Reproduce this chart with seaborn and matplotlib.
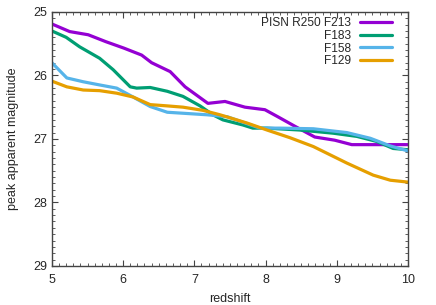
import numpy as np
import pandas as pd
import matplotlib
matplotlib.use("Agg")
import matplotlib.pyplot as plt
import seaborn as sns
from matplotlib.ticker import MultipleLocator

# peak apparent magnitude vs redshift
z_f213 = [5.0, 5.25, 5.51, 5.76, 6.01, 6.26, 6.40, 6.66, 6.87, 7.19, 7.43, 7.71, 7.99, 8.17, 8.41, 8.69, 8.97, 9.21, 9.61, 10.0]
m_f213 = [25.19, 25.31, 25.36, 25.47, 25.57, 25.68, 25.80, 25.94, 26.18, 26.44, 26.41, 26.50, 26.54, 26.65, 26.80, 26.97, 27.02, 27.09, 27.09, 27.09]

z_f183 = [5.0, 5.2, 5.39, 5.67, 5.86, 6.10, 6.19, 6.38, 6.62, 6.84, 7.08, 7.26, 7.40, 7.68, 7.82, 8.02, 8.48, 8.95, 9.28, 9.56, 9.79, 10.0]
m_f183 = [25.30, 25.40, 25.55, 25.73, 25.91, 26.18, 26.20, 26.19, 26.25, 26.33, 26.48, 26.62, 26.70, 26.78, 26.83, 26.83, 26.86, 26.91, 26.96, 27.04, 27.15, 27.17]

z_f158 = [5.0, 5.21, 5.44, 5.67, 5.91, 6.14, 6.38, 6.62, 6.90, 7.18, 7.46, 7.92, 8.20, 8.67, 9.14, 9.47, 9.75, 10.0]
m_f158 = [25.80, 26.04, 26.10, 26.15, 26.20, 26.34, 26.49, 26.58, 26.60, 26.62, 26.65, 26.83, 26.83, 26.84, 26.90, 26.99, 27.11, 27.19]

z_f129 = [5.0, 5.21, 5.44, 5.67, 5.91, 6.14, 6.38, 6.62, 6.84, 7.12, 7.36, 7.74, 8.02, 8.34, 8.67, 9.14, 9.51, 9.75, 10.0]
m_f129 = [26.09, 26.18, 26.23, 26.24, 26.28, 26.34, 26.46, 26.48, 26.50, 26.55, 26.62, 26.75, 26.86, 26.98, 27.12, 27.38, 27.57, 27.65, 27.68]

labels = ["PISN R250 F213", "F183", "F158", "F129"]
colors = ["#9400d3", "#009e73", "#56b4e9", "#e69f00"]

sns.set_style("ticks")
plt.rcParams['font.family'] = ['Liberation Sans', 'DejaVu Sans']

fig = plt.figure(figsize=(4.36, 3.05), dpi=100)
ax = fig.add_axes([0.119, 0.128, 0.817, 0.833])

series = [(z_f213, m_f213), (z_f183, m_f183), (z_f158, m_f158), (z_f129, m_f129)]
for (z, m), lab, col in zip(series, labels, colors):
    df = pd.DataFrame({"redshift": z, "mag": m})
    sns.lineplot(data=df, x="redshift", y="mag", ax=ax, color=col, lw=2.3, label=lab)

ax.set_xlim(5, 10)
ax.set_ylim(29, 25)
ax.xaxis.set_major_locator(MultipleLocator(1))
ax.xaxis.set_minor_locator(MultipleLocator(0.1))
ax.yaxis.set_major_locator(MultipleLocator(1))
ax.yaxis.set_minor_locator(MultipleLocator(0.1))
ax.tick_params(which="both", direction="in", top=True, right=True, color="#444444", labelsize=9)
ax.tick_params(which="major", length=4, width=0.8)
ax.tick_params(which="minor", length=2, width=0.6)
ax.tick_params(axis="x", which="major", pad=6)
for s in ax.spines.values():
    s.set_color("#444444")
    s.set_linewidth(1.0)

ax.set_xlabel("redshift", fontsize=9, labelpad=5)
ax.set_ylabel("peak apparent magnitude", fontsize=9, labelpad=10)

leg = ax.legend(loc="upper right", frameon=False, markerfirst=False, fontsize=8.6,
                handlelength=2.7, handletextpad=0.75, labelspacing=0.05,
                borderaxespad=0.0, borderpad=0.2, bbox_to_anchor=(0.962, 0.988))

fig.savefig("out.png", dpi=100)
